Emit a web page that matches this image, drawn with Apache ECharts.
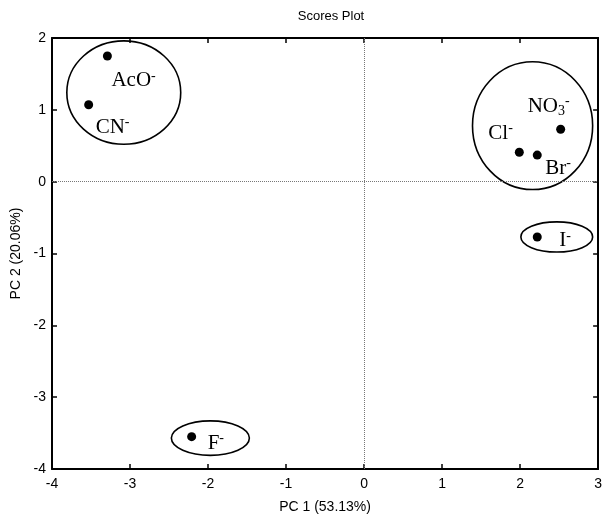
<!DOCTYPE html>
<html lang="en">
<head>
  <meta charset="UTF-8">
  <title>Scores Plot</title>
  <script src="https://cdn.jsdelivr.net/npm/echarts@6/dist/echarts.min.js"></script>
</head>
<body style="margin:0; background-color:#ffffff;">
<div id="main" style="width:605px; height:519px;"></div>

<script>
  // scores (PC1, PC2)
  var anions = ['AcO', 'CN', 'NO3', 'Cl', 'Br', 'I', 'F'];
  var labels = ['AcO{sup|-}', 'CN{sup|-}', 'NO{sub|3}{sup|-}', 'Cl{sup|-}', 'Br{sup|-}', 'I{sup|-}', 'F{sup|-}'];
  var pc1 = [-3.29, -3.53, 2.52, 1.99, 2.22, 2.22, -2.21];
  var pc2 = [1.75, 1.07, 0.73, 0.41, 0.37, -0.77, -3.55];

  // group ellipses: centre x, centre y, half width, half height (data units)
  var ellCx = [-3.08, 2.16, 2.47, -1.97];
  var ellCy = [1.24, 0.78, -0.77, -3.57];
  var ellRx = [0.73, 0.77, 0.46, 0.50];
  var ellRy = [0.72, 0.89, 0.21, 0.24];

  var xTicks = { min: -4, max: 3, interval: 1 };
  var yTicks = { min: -4, max: 2, interval: 1 };

  // where each label sits relative to its dot (pixels)
  var labelOffset = {
    'AcO': [4, 25],
    'CN': [7, 23],
    'NO3': [-33, -23],
    'Cl': [-31, -19],
    'Br': [8, 13],
    'I': [22, 4],
    'F': [16, 7]
  };

  var chart = echarts.init(document.getElementById('main'));

  var pointData = anions.map(function (name, i) {
    return {
      name: name,
      value: [pc1[i], pc2[i]],
      label: { offset: labelOffset[name], formatter: labels[i] }
    };
  });

  var ellipseData = ellCx.map(function (cx, i) {
    return [cx, ellCy[i], ellRx[i], ellRy[i]];
  });

  var sans = 'Liberation Sans, Arial, sans-serif';
  var serif = 'Liberation Serif, Times New Roman, serif';
  var tickFont = { color: '#000', fontSize: 14, fontFamily: sans };
  var boxLine = { show: true, onZero: false, lineStyle: { color: '#000', width: 2 } };
  var boxTick = { show: true, inside: true, length: 5, lineStyle: { color: '#000', width: 1.5 } };

  var option = {
    backgroundColor: '#fff',
    animation: false,
    title: {
      text: 'Scores Plot',
      left: 326,
      textAlign: 'center',
      top: 5,
      textStyle: { color: '#000', fontSize: 13, fontWeight: 'normal', fontFamily: sans }
    },
    grid: { left: 52, right: 4, top: 38, bottom: 47 },
    xAxis: [{
      type: 'value',
      min: xTicks.min, max: xTicks.max, interval: xTicks.interval,
      position: 'bottom',
      name: 'PC 1 (53.13%)',
      nameLocation: 'middle',
      nameGap: 31,
      nameTextStyle: { color: '#000', fontSize: 14, fontFamily: sans },
      axisLine: boxLine,
      axisTick: boxTick,
      axisLabel: Object.assign({ margin: 8 }, tickFont),
      splitLine: { show: false }
    }, {
      type: 'value',
      min: xTicks.min, max: xTicks.max, interval: xTicks.interval,
      position: 'top',
      axisLine: boxLine,
      axisTick: boxTick,
      axisLabel: { show: false },
      splitLine: { show: false }
    }],
    yAxis: [{
      type: 'value',
      min: yTicks.min, max: yTicks.max, interval: yTicks.interval,
      position: 'left',
      name: 'PC 2 (20.06%)',
      nameLocation: 'middle',
      nameGap: 23,
      nameTextStyle: { color: '#000', fontSize: 14, fontFamily: sans },
      axisLine: boxLine,
      axisTick: boxTick,
      axisLabel: Object.assign({ margin: 6 }, tickFont),
      splitLine: { show: false }
    }, {
      type: 'value',
      min: yTicks.min, max: yTicks.max, interval: yTicks.interval,
      position: 'right',
      axisLine: boxLine,
      axisTick: boxTick,
      axisLabel: { show: false },
      splitLine: { show: false }
    }],
    series: [
      {
        type: 'scatter',
        symbol: 'circle',
        symbolSize: 9,
        itemStyle: { color: '#000', opacity: 1 },
        emphasis: { disabled: true },
        label: {
          show: true,
          position: 'inside',
          align: 'left',
          verticalAlign: 'middle',
          color: '#000',
          fontSize: 21,
          lineHeight: 24,
          fontFamily: serif,
          rich: {
            sup: { fontSize: 14, verticalAlign: 'top', lineHeight: 24, fontFamily: serif, color: '#000' },
            sub: { fontSize: 14, verticalAlign: 'bottom', lineHeight: 24, fontFamily: serif, color: '#000' }
          }
        },
        markLine: {
          silent: true,
          symbol: 'none',
          label: { show: false },
          lineStyle: { color: '#777', type: 'dotted', width: 1 },
          data: [{ xAxis: 0 }, { yAxis: 0 }]
        },
        data: pointData
      },
      {
        type: 'custom',
        silent: true,
        encode: { x: 0, y: 1 },
        renderItem: function (params, api) {
          var c = api.coord([api.value(0), api.value(1)]);
          var s = api.size([api.value(2), api.value(3)]);
          return {
            type: 'ellipse',
            shape: { cx: c[0], cy: c[1], rx: s[0], ry: s[1] },
            style: { fill: 'none', stroke: '#000', lineWidth: 1.6 }
          };
        },
        data: ellipseData
      }
    ]
  };

  chart.setOption(option);
</script>
</body>
</html>
